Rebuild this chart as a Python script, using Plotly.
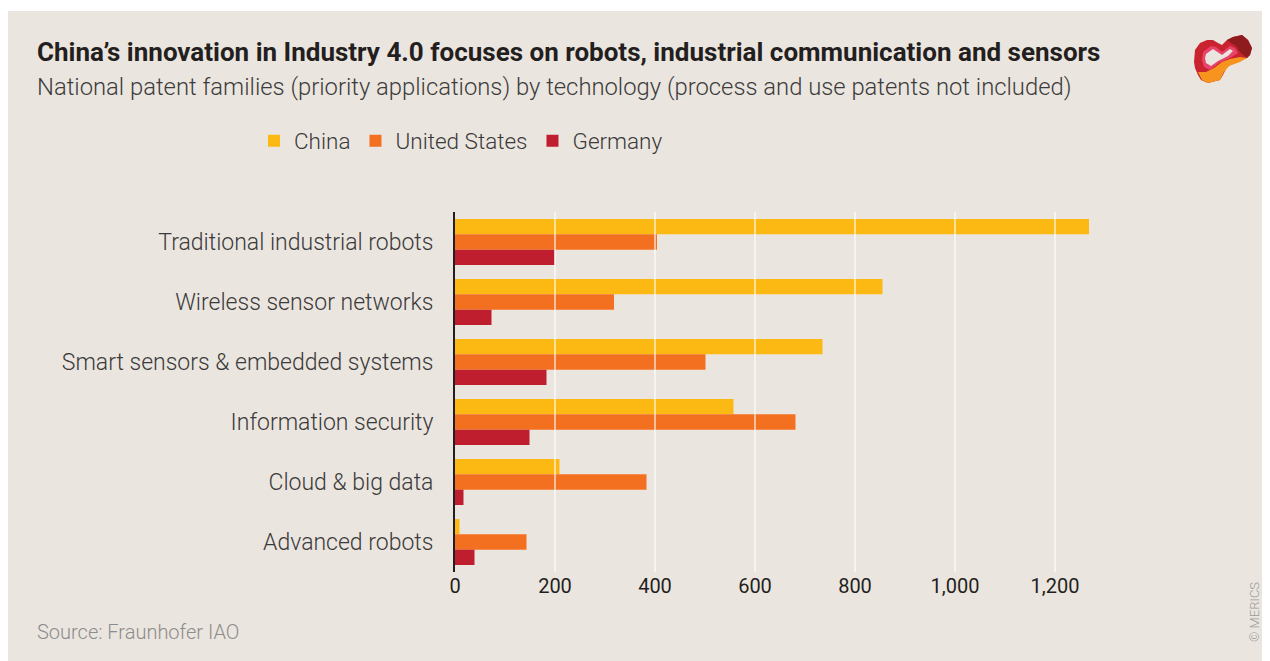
import plotly.graph_objects as go

# the page adds an 8px body margin, so the figure is laid out 8px up/left of the reference pixels
OFF = 8
W, H = 1262, 653
L, R, T, B = 447, 165, 204, 89
PW, PH = W - L - R, H - T - B

categories = [
    "Traditional industrial robots",
    "Wireless sensor networks",
    "Smart sensors & embedded systems",
    "Information security",
    "Cloud & big data",
    "Advanced robots",
]
china = [1268, 855, 735, 557, 209, 9]
united_states = [404, 318, 501, 681, 383, 143]
germany = [199, 73, 183, 149, 17, 39]

x_ticks = [0, 200, 400, 600, 800, 1000, 1200]

series = [
    ("China", china, "#FDB913"),
    ("United States", united_states, "#F37021"),
    ("Germany", germany, "#BE1E2D"),
]

BG = "#EBE5DF"
FONT = "Roboto"


def px(x, y):
    # reference pixel position -> paper coordinates (relative to plot area)
    fx, fy = x - OFF, y - OFF
    return (fx - L) / PW, (H - B - fy) / PH


fig = go.Figure()
for name, vals, col in series:
    fig.add_trace(go.Bar(
        y=categories, x=vals, name=name, orientation="h",
        marker=dict(color=col, line=dict(width=0)),
        hoverinfo="x+name",
    ))

# white gridlines drawn over the bars
for t in x_ticks[1:]:
    fig.add_shape(type="line", xref="x", yref="y domain", x0=t, x1=t, y0=0, y1=1,
                  line=dict(color="white", width=1.5), opacity=0.75, layer="above")

# beige panel
x0, y0 = px(0, 11)
x1, y1 = px(1280, 680)
fig.add_shape(type="rect", xref="paper", yref="paper", x0=x0, y0=y1, x1=x1, y1=y0,
              fillcolor=BG, line=dict(width=0), layer="below")


# logo (rough)
def path(points):
    s = ""
    for i, (a, b) in enumerate(points):
        u, v = px(a, b)
        s += ("M" if i == 0 else "L") + f"{u:.5f},{v:.5f} "
    return s + "Z"


logo_parts = [
    ("#C8232E", [(1200, 43), (1207, 40), (1213, 40), (1218, 43), (1222, 45), (1227, 40), (1233, 37),
                 (1242, 35), (1248, 40), (1252, 48), (1250, 55), (1247, 58), (1235, 62), (1227, 67),
                 (1223, 75), (1220, 80), (1208, 83), (1201, 80), (1198, 75), (1195, 68), (1194, 62),
                 (1195, 50)]),
    ("#8E1B1E", [(1227, 40), (1233, 37), (1242, 35), (1248, 40), (1252, 48), (1250, 55), (1247, 58),
                 (1240, 52), (1236, 46), (1231, 43)]),
    ("#F7941D", [(1198, 72), (1202, 80), (1208, 83), (1220, 80), (1224, 72), (1229, 66), (1240, 62),
                 (1247, 58), (1240, 57), (1230, 59), (1222, 62), (1214, 68), (1206, 72)]),
    ("#E8446A", [(1203, 52), (1211, 46), (1216, 47), (1222, 52), (1230, 46), (1235, 48), (1238, 53),
                 (1230, 58), (1219, 63), (1210, 70), (1204, 67), (1202, 60)]),
    (BG, [(1206, 54), (1213, 49), (1222, 55), (1230, 49), (1233, 51), (1228, 56), (1218, 61),
          (1211, 66), (1206, 63), (1205, 58)]),
]
for col, pts in logo_parts:
    fig.add_shape(type="path", xref="paper", yref="paper", path=path(pts),
                  fillcolor=col, line=dict(width=0))

ann = []
tx, ty = px(35, 52)
ann.append(dict(text="China’s innovation in Industry 4.0 focuses on robots, industrial communication and sensors",
                x=tx, y=ty, xanchor="left", yanchor="middle",
                font=dict(family=FONT, size=26, color="#231F20", weight="bold")))
tx, ty = px(35, 87)
ann.append(dict(text="National patent families (priority applications) by technology (process and use patents not included)",
                x=tx, y=ty, xanchor="left", yanchor="middle",
                font=dict(family=FONT, size=23.8, color="#3C3C3C", weight=300)))
tx, ty = px(35, 632)
ann.append(dict(text="Source: Fraunhofer IAO", x=tx, y=ty, xanchor="left", yanchor="middle",
                font=dict(family=FONT, size=20, color="#8C8C8C", weight=300)))
tx, ty = px(1254, 612)
ann.append(dict(text="© MERICS", x=tx, y=ty, xanchor="center", yanchor="middle", textangle=-90,
                font=dict(family=FONT, size=13, color="#9A9A9A", weight=300)))
for a in ann:
    a.update(xref="paper", yref="paper", showarrow=False)

lx, ly = px(254, 141)
fig.update_layout(
    width=W, height=H,
    margin=dict(l=L, r=R, t=T, b=B),
    paper_bgcolor="white",
    plot_bgcolor="rgba(0,0,0,0)",
    barmode="group",
    bargap=0.233,
    bargroupgap=0,
    font=dict(family=FONT, color="#3A3A3A"),
    annotations=ann,
    showlegend=True,
    legend=dict(orientation="h", x=lx, y=ly, xanchor="left", yanchor="middle",
                font=dict(family=FONT, size=22.5, color="#3A3A3A", weight=300),
                bgcolor="rgba(0,0,0,0)", traceorder="normal"),
    xaxis=dict(range=[0, 1300], tickvals=x_ticks, tickformat=",", showgrid=False,
               zeroline=False, showline=False, ticks="",
               tickfont=dict(family=FONT, size=20, color="#231F20")),
    yaxis=dict(autorange="reversed", showgrid=False, zeroline=False, showline=True,
               linecolor="#231F20", linewidth=2, ticks="", ticklabelstandoff=15,
               tickfont=dict(family=FONT, size=23, color="#3A3A3A", weight=300)),
)

fig.write_html("out.html")
